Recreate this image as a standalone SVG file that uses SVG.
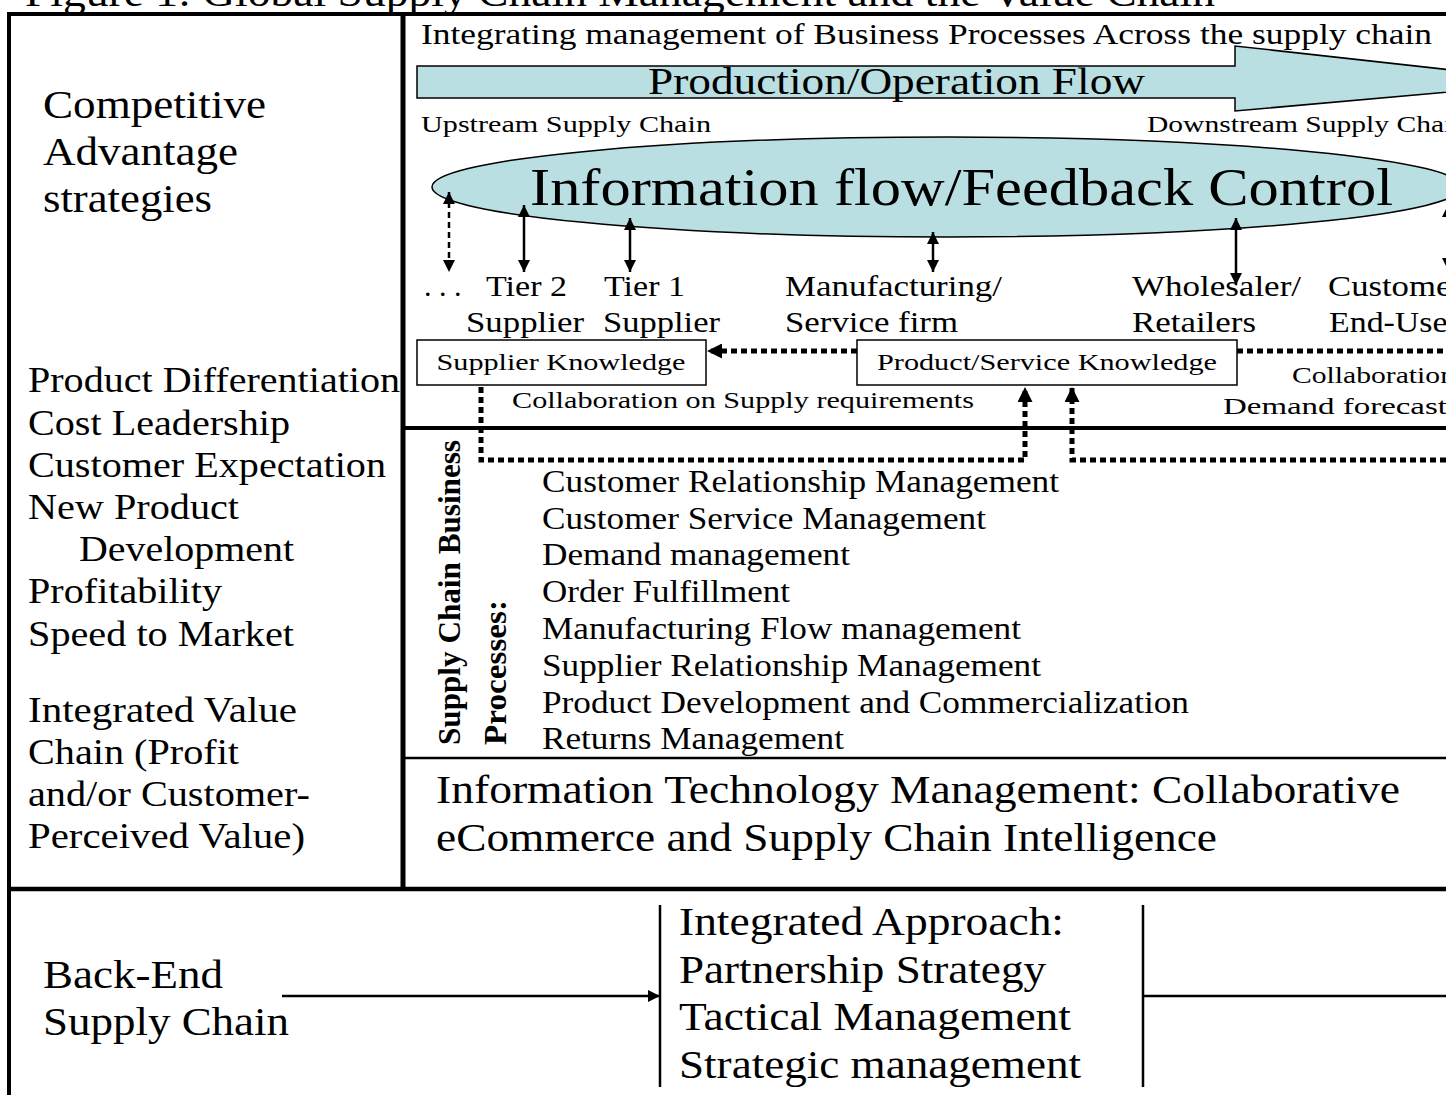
<svg xmlns="http://www.w3.org/2000/svg" width="1446" height="1095" viewBox="0 0 1446 1095">
<style>
text{font-family:"Liberation Serif","Times New Roman",serif;fill:#000}
.frame{stroke:#000;fill:none}
.thin{stroke:#000;stroke-width:2.5;fill:none}
.solid{stroke:#000;stroke-width:2.5;fill:none}
.dash{stroke:#000;stroke-width:2.5;fill:none;stroke-dasharray:6 4}
.dot{stroke:#000;stroke-width:5;fill:none;stroke-dasharray:6 4}
.box{fill:#fff;stroke:#000;stroke-width:1.5}
.cyan{fill:#b9dfe2;stroke:#000;stroke-width:1.5}
</style>
<defs>
<marker id="ah" viewBox="0 0 10 10" refX="10" refY="5" markerUnits="userSpaceOnUse" markerWidth="12" markerHeight="12" orient="auto-start-reverse"><path d="M0,0 L10,5 L0,10 z" fill="#000"/></marker>
<marker id="ahd" viewBox="0 0 10 10" refX="10" refY="5" markerUnits="userSpaceOnUse" markerWidth="15" markerHeight="15" orient="auto-start-reverse"><path d="M0,0 L10,5 L0,10 z" fill="#000"/></marker>
</defs>
<rect width="1446" height="1095" fill="#fff"/>

<g id="title"><text x="25" y="6" font-size="40" textLength="1190" lengthAdjust="spacingAndGlyphs">Figure 1: Global Supply Chain Management and the Value Chain</text></g>

<g id="frame">
<line class="frame" x1="7" y1="14" x2="1446" y2="14" stroke-width="4"/>
<line class="frame" x1="9" y1="12" x2="9" y2="1095" stroke-width="4"/>
<line class="frame" x1="403" y1="12" x2="403" y2="890" stroke-width="5"/>
<line class="frame" x1="7" y1="889" x2="1446" y2="889" stroke-width="4.5"/>
<line class="frame" x1="403" y1="428" x2="1446" y2="428" stroke-width="4"/>
<line class="frame" x1="403" y1="758" x2="1446" y2="758" stroke-width="2.5"/>
</g>

<g id="competitive-advantage">
<text font-size="40" x="43"><tspan y="118" textLength="223" lengthAdjust="spacingAndGlyphs">Competitive</tspan><tspan x="43" y="165" textLength="195" lengthAdjust="spacingAndGlyphs">Advantage</tspan><tspan x="43" y="212" textLength="169" lengthAdjust="spacingAndGlyphs">strategies</tspan></text>
</g>

<g id="strategy-list" font-size="35">
<text x="28" y="392" textLength="372" lengthAdjust="spacingAndGlyphs">Product Differentiation</text>
<text x="28" y="435" textLength="262" lengthAdjust="spacingAndGlyphs">Cost Leadership</text>
<text x="28" y="477" textLength="358" lengthAdjust="spacingAndGlyphs">Customer Expectation</text>
<text x="28" y="519" textLength="211" lengthAdjust="spacingAndGlyphs">New Product</text>
<text x="79" y="561" textLength="215" lengthAdjust="spacingAndGlyphs">Development</text>
<text x="28" y="603" textLength="194" lengthAdjust="spacingAndGlyphs">Profitability</text>
<text x="28" y="646" textLength="266" lengthAdjust="spacingAndGlyphs">Speed to Market</text>
<text x="28" y="722" textLength="269" lengthAdjust="spacingAndGlyphs">Integrated Value</text>
<text x="28" y="764" textLength="211" lengthAdjust="spacingAndGlyphs">Chain (Profit</text>
<text x="28" y="806" textLength="282" lengthAdjust="spacingAndGlyphs">and/or Customer-</text>
<text x="28" y="848" textLength="277" lengthAdjust="spacingAndGlyphs">Perceived Value)</text>
</g>

<g id="integrating-label"><text x="421" y="44" font-size="29" textLength="1011" lengthAdjust="spacingAndGlyphs">Integrating management of Business Processes Across the supply chain</text></g>

<g id="production-flow">
<polygon class="cyan" points="417,66 1235,66 1235,46 1560,82 1235,111 1235,98 417,98"/>
<text x="648" y="94" font-size="38" textLength="497" lengthAdjust="spacingAndGlyphs">Production/Operation Flow</text>
</g>

<g id="upstream"><text x="421" y="132" font-size="23" textLength="290" lengthAdjust="spacingAndGlyphs">Upstream Supply Chain</text></g>
<g id="downstream"><text x="1147" y="132" font-size="23" textLength="320" lengthAdjust="spacingAndGlyphs">Downstream Supply Chain</text></g>

<g id="information-flow">
<ellipse class="cyan" cx="947" cy="187" rx="515" ry="50"/>
<text x="530" y="205" font-size="53" textLength="863" lengthAdjust="spacingAndGlyphs">Information flow/Feedback Control</text>
</g>

<g id="ellipsis"><text x="424" y="296" font-size="30">. . .</text></g>
<g id="tier2"><text font-size="30"><tspan x="486" y="296" textLength="81" lengthAdjust="spacingAndGlyphs">Tier 2</tspan><tspan x="466" y="332" textLength="118" lengthAdjust="spacingAndGlyphs">Supplier</tspan></text></g>
<g id="tier1"><text font-size="30"><tspan x="604" y="296" textLength="81" lengthAdjust="spacingAndGlyphs">Tier 1</tspan><tspan x="603" y="332" textLength="117" lengthAdjust="spacingAndGlyphs">Supplier</tspan></text></g>
<g id="manufacturing"><text font-size="30"><tspan x="785" y="296" textLength="217" lengthAdjust="spacingAndGlyphs">Manufacturing/</tspan><tspan x="785" y="332" textLength="173" lengthAdjust="spacingAndGlyphs">Service firm</tspan></text></g>
<g id="wholesaler"><text font-size="30"><tspan x="1132" y="296" textLength="169" lengthAdjust="spacingAndGlyphs">Wholesaler/</tspan><tspan x="1132" y="332" textLength="124" lengthAdjust="spacingAndGlyphs">Retailers</tspan></text></g>
<g id="customers"><text font-size="30"><tspan x="1328" y="296" textLength="158" lengthAdjust="spacingAndGlyphs">Customers/</tspan><tspan x="1329" y="332" textLength="143" lengthAdjust="spacingAndGlyphs">End-Users</tspan></text></g>

<g id="supplier-knowledge">
<rect class="box" x="417" y="340" width="289" height="45"/>
<text x="561" y="370" font-size="24" text-anchor="middle" textLength="249" lengthAdjust="spacingAndGlyphs">Supplier Knowledge</text>
</g>
<g id="product-knowledge">
<rect class="box" x="857" y="340" width="380" height="45"/>
<text x="1047" y="370" font-size="24" text-anchor="middle" textLength="340" lengthAdjust="spacingAndGlyphs">Product/Service Knowledge</text>
</g>

<g id="collab-supply"><text x="512" y="408" font-size="23" textLength="462" lengthAdjust="spacingAndGlyphs">Collaboration on Supply requirements</text></g>
<g id="collab-demand"><text font-size="23"><tspan x="1292" y="383" textLength="200" lengthAdjust="spacingAndGlyphs">Collaboration on</tspan><tspan x="1223" y="414" textLength="266" lengthAdjust="spacingAndGlyphs">Demand forecasting</tspan></text></g>

<g id="sc-processes-label" font-weight="bold" font-size="31">
<text transform="translate(460,745) rotate(-90)" textLength="305" lengthAdjust="spacingAndGlyphs">Supply Chain Business</text>
<text transform="translate(506,745) rotate(-90)" textLength="145" lengthAdjust="spacingAndGlyphs">Processes:</text>
</g>

<g id="process-list" font-size="31">
<text x="542" y="492" textLength="517" lengthAdjust="spacingAndGlyphs">Customer Relationship Management</text>
<text x="542" y="529" textLength="444" lengthAdjust="spacingAndGlyphs">Customer Service Management</text>
<text x="542" y="565" textLength="308" lengthAdjust="spacingAndGlyphs">Demand management</text>
<text x="542" y="602" textLength="248" lengthAdjust="spacingAndGlyphs">Order Fulfillment</text>
<text x="542" y="639" textLength="479" lengthAdjust="spacingAndGlyphs">Manufacturing Flow management</text>
<text x="542" y="676" textLength="499" lengthAdjust="spacingAndGlyphs">Supplier Relationship Management</text>
<text x="542" y="713" textLength="647" lengthAdjust="spacingAndGlyphs">Product Development and Commercialization</text>
<text x="542" y="749" textLength="302" lengthAdjust="spacingAndGlyphs">Returns Management</text>
</g>

<g id="it-management" font-size="41">
<text x="436" y="803" textLength="964" lengthAdjust="spacingAndGlyphs">Information Technology Management: Collaborative</text>
<text x="436" y="851" textLength="781" lengthAdjust="spacingAndGlyphs">eCommerce and Supply Chain Intelligence</text>
</g>

<g id="back-end" font-size="40">
<text x="43" y="988" textLength="180" lengthAdjust="spacingAndGlyphs">Back-End</text>
<text x="43" y="1035" textLength="246" lengthAdjust="spacingAndGlyphs">Supply Chain</text>
</g>

<g id="integrated-approach" font-size="40">
<text x="679" y="935" textLength="385" lengthAdjust="spacingAndGlyphs">Integrated Approach:</text>
<text x="679" y="983" textLength="367" lengthAdjust="spacingAndGlyphs">Partnership Strategy</text>
<text x="679" y="1030" textLength="392" lengthAdjust="spacingAndGlyphs">Tactical Management</text>
<text x="679" y="1078" textLength="402" lengthAdjust="spacingAndGlyphs">Strategic management</text>
</g>

<g id="connectors">
<line class="dash" x1="449" y1="192" x2="449" y2="272" marker-start="url(#ah)" marker-end="url(#ah)"/>
<line class="solid" x1="524" y1="205" x2="524" y2="272" marker-start="url(#ah)" marker-end="url(#ah)"/>
<line class="solid" x1="630" y1="218" x2="630" y2="272" marker-start="url(#ah)" marker-end="url(#ah)"/>
<line class="solid" x1="933" y1="232" x2="933" y2="272" marker-start="url(#ah)" marker-end="url(#ah)"/>
<line class="solid" x1="1236" y1="218" x2="1236" y2="285" marker-start="url(#ah)" marker-end="url(#ah)"/>
<line class="solid" x1="1448" y1="205" x2="1448" y2="270" marker-start="url(#ah)" marker-end="url(#ah)"/>
<path class="dot" d="M857,351 H707" marker-end="url(#ahd)"/>
<path class="dot" d="M1237,351 H1446"/>
<path class="dot" d="M481,387 V460 H1025 V387" marker-end="url(#ahd)"/>
<path class="dot" d="M1446,460 H1072 V387" marker-end="url(#ahd)"/>
<line class="thin" x1="282" y1="996" x2="660" y2="996" marker-end="url(#ah)"/>
<line class="thin" x1="660" y1="905" x2="660" y2="1087"/>
<line class="thin" x1="1143" y1="905" x2="1143" y2="1087"/>
<line class="thin" x1="1143" y1="996" x2="1446" y2="996"/>
</g>
</svg>
